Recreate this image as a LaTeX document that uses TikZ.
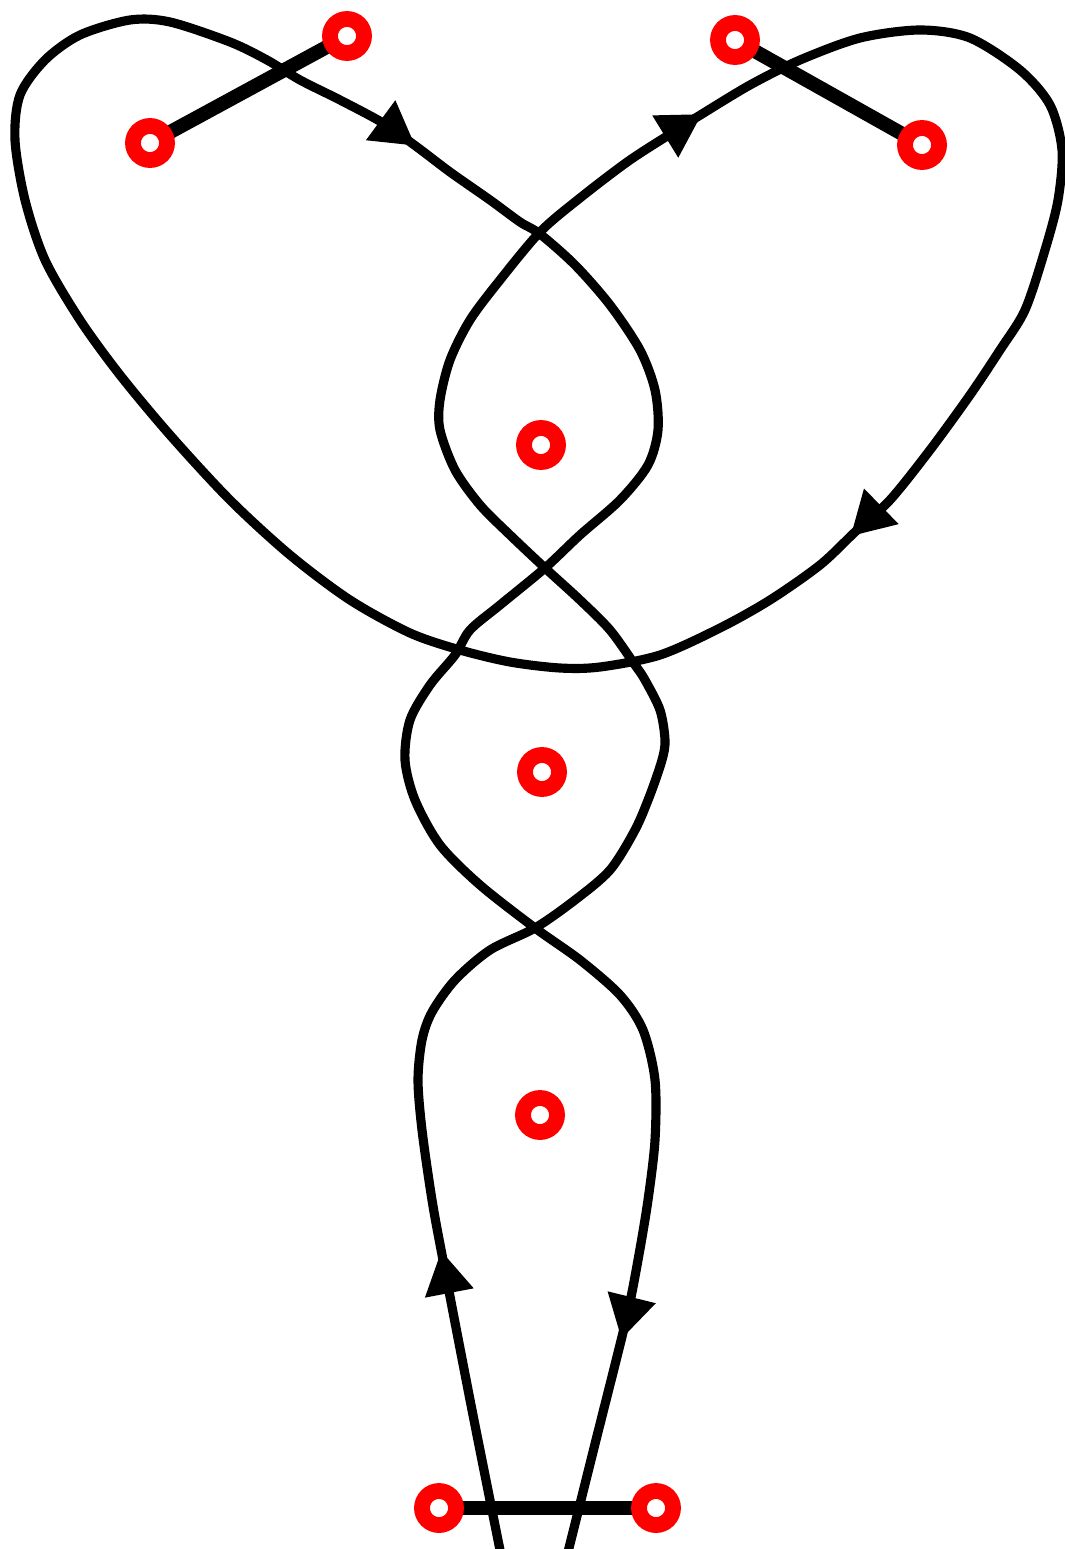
\documentclass[tikz,border=0pt]{standalone}
\usetikzlibrary{arrows.meta,decorations.markings}

\begin{document}
\begin{tikzpicture}[x=0.01cm,y=-0.01cm,
  >={Triangle[length=4.3mm,width=4.7mm]},
  curve/.style={line width=2.6pt,line join=round},
  bar/.style={line width=4pt},
  hole/.style={circle,draw=red,fill=white,line width=4.5pt,minimum size=3.4mm,inner sep=0pt}]
\path[use as bounding box] (0,0) rectangle (1065,1549);
% ends of the three bars and the loose points
\coordinate (pL) at (150,143);
\coordinate (pR) at (347,36);
\coordinate (qL) at (735,40);
\coordinate (qR) at (922,145);
\coordinate (bL) at (439,1508);
\coordinate (bR) at (656,1508);
\coordinate (c1) at (541,445);
\coordinate (c2) at (542,772);
\coordinate (c3) at (540,1115);
\draw[bar] (pL) -- (pR);
\draw[bar] (qL) -- (qR);
\draw[bar] (bL) -- (bR);
% the strand
\draw[curve,decoration={markings,
    mark=at position 3.15cm with {\arrow{>}},
    mark=at position 17.51cm with {\arrow{>}},
    mark=at position 26.43cm with {\arrow{>}},
    mark=at position 42.78cm with {\arrow{>}},
    mark=at position 57.8cm with {\arrow{>}}},
  postaction={decorate}]
  plot[smooth] coordinates {(502,1560) (472,1410) (443,1260) (432,1200) (422,1130)
  (418,1080) (422,1040) (432,1012) (455,980) (490,950) (535,928) (575,900) (610,870)
  (635,830) (650,795) (662,760) (665,740) (660,710) (645,680) (635,665) (610,630)
  (580,600) (545,568) (510,535) (480,505) (455,470) (440,430) (440,400) (450,360)
  (470,320) (500,280) (540,232) (580,198) (630,160) (680,128) (702,114) (750,85)
  (800,60) (860,38) (920,30) (970,38) (1020,70) (1050,105) (1062,150) (1058,200)
  (1045,250) (1025,310) (1000,350) (970,395) (930,450) (890,500) (855,532) (820,565)
  (770,600) (720,628) (660,655) (600,667) (560,668) (510,662) (460,650) (410,633)
  (350,600) (290,555) (230,500) (170,435) (120,375) (80,320) (45,260) (25,200)
  (15,140) (20,95) (45,60) (80,35) (130,20) (170,22) (230,42) (267,60) (300,80)
  (340,100) (383,123) (417,147) (450,172) (490,200) (520,222) (540,234) (575,265)
  (610,305) (640,350) (655,390) (658,430) (648,465) (620,500) (580,535) (545,568)
  (500,605) (470,630) (455,655) (430,685) (410,720) (405,760) (415,800) (440,845)
  (480,885) (535,928) (580,960) (620,995) (643,1030) (655,1080) (655,1140) (648,1200)
  (638,1260) (626,1320) (596,1440) (566,1560)};
\foreach \p in {pL,pR,qL,qR,bL,bR,c1,c2,c3}
  \node[hole] (n\p) at (\p) {};
\end{tikzpicture}
\end{document}
